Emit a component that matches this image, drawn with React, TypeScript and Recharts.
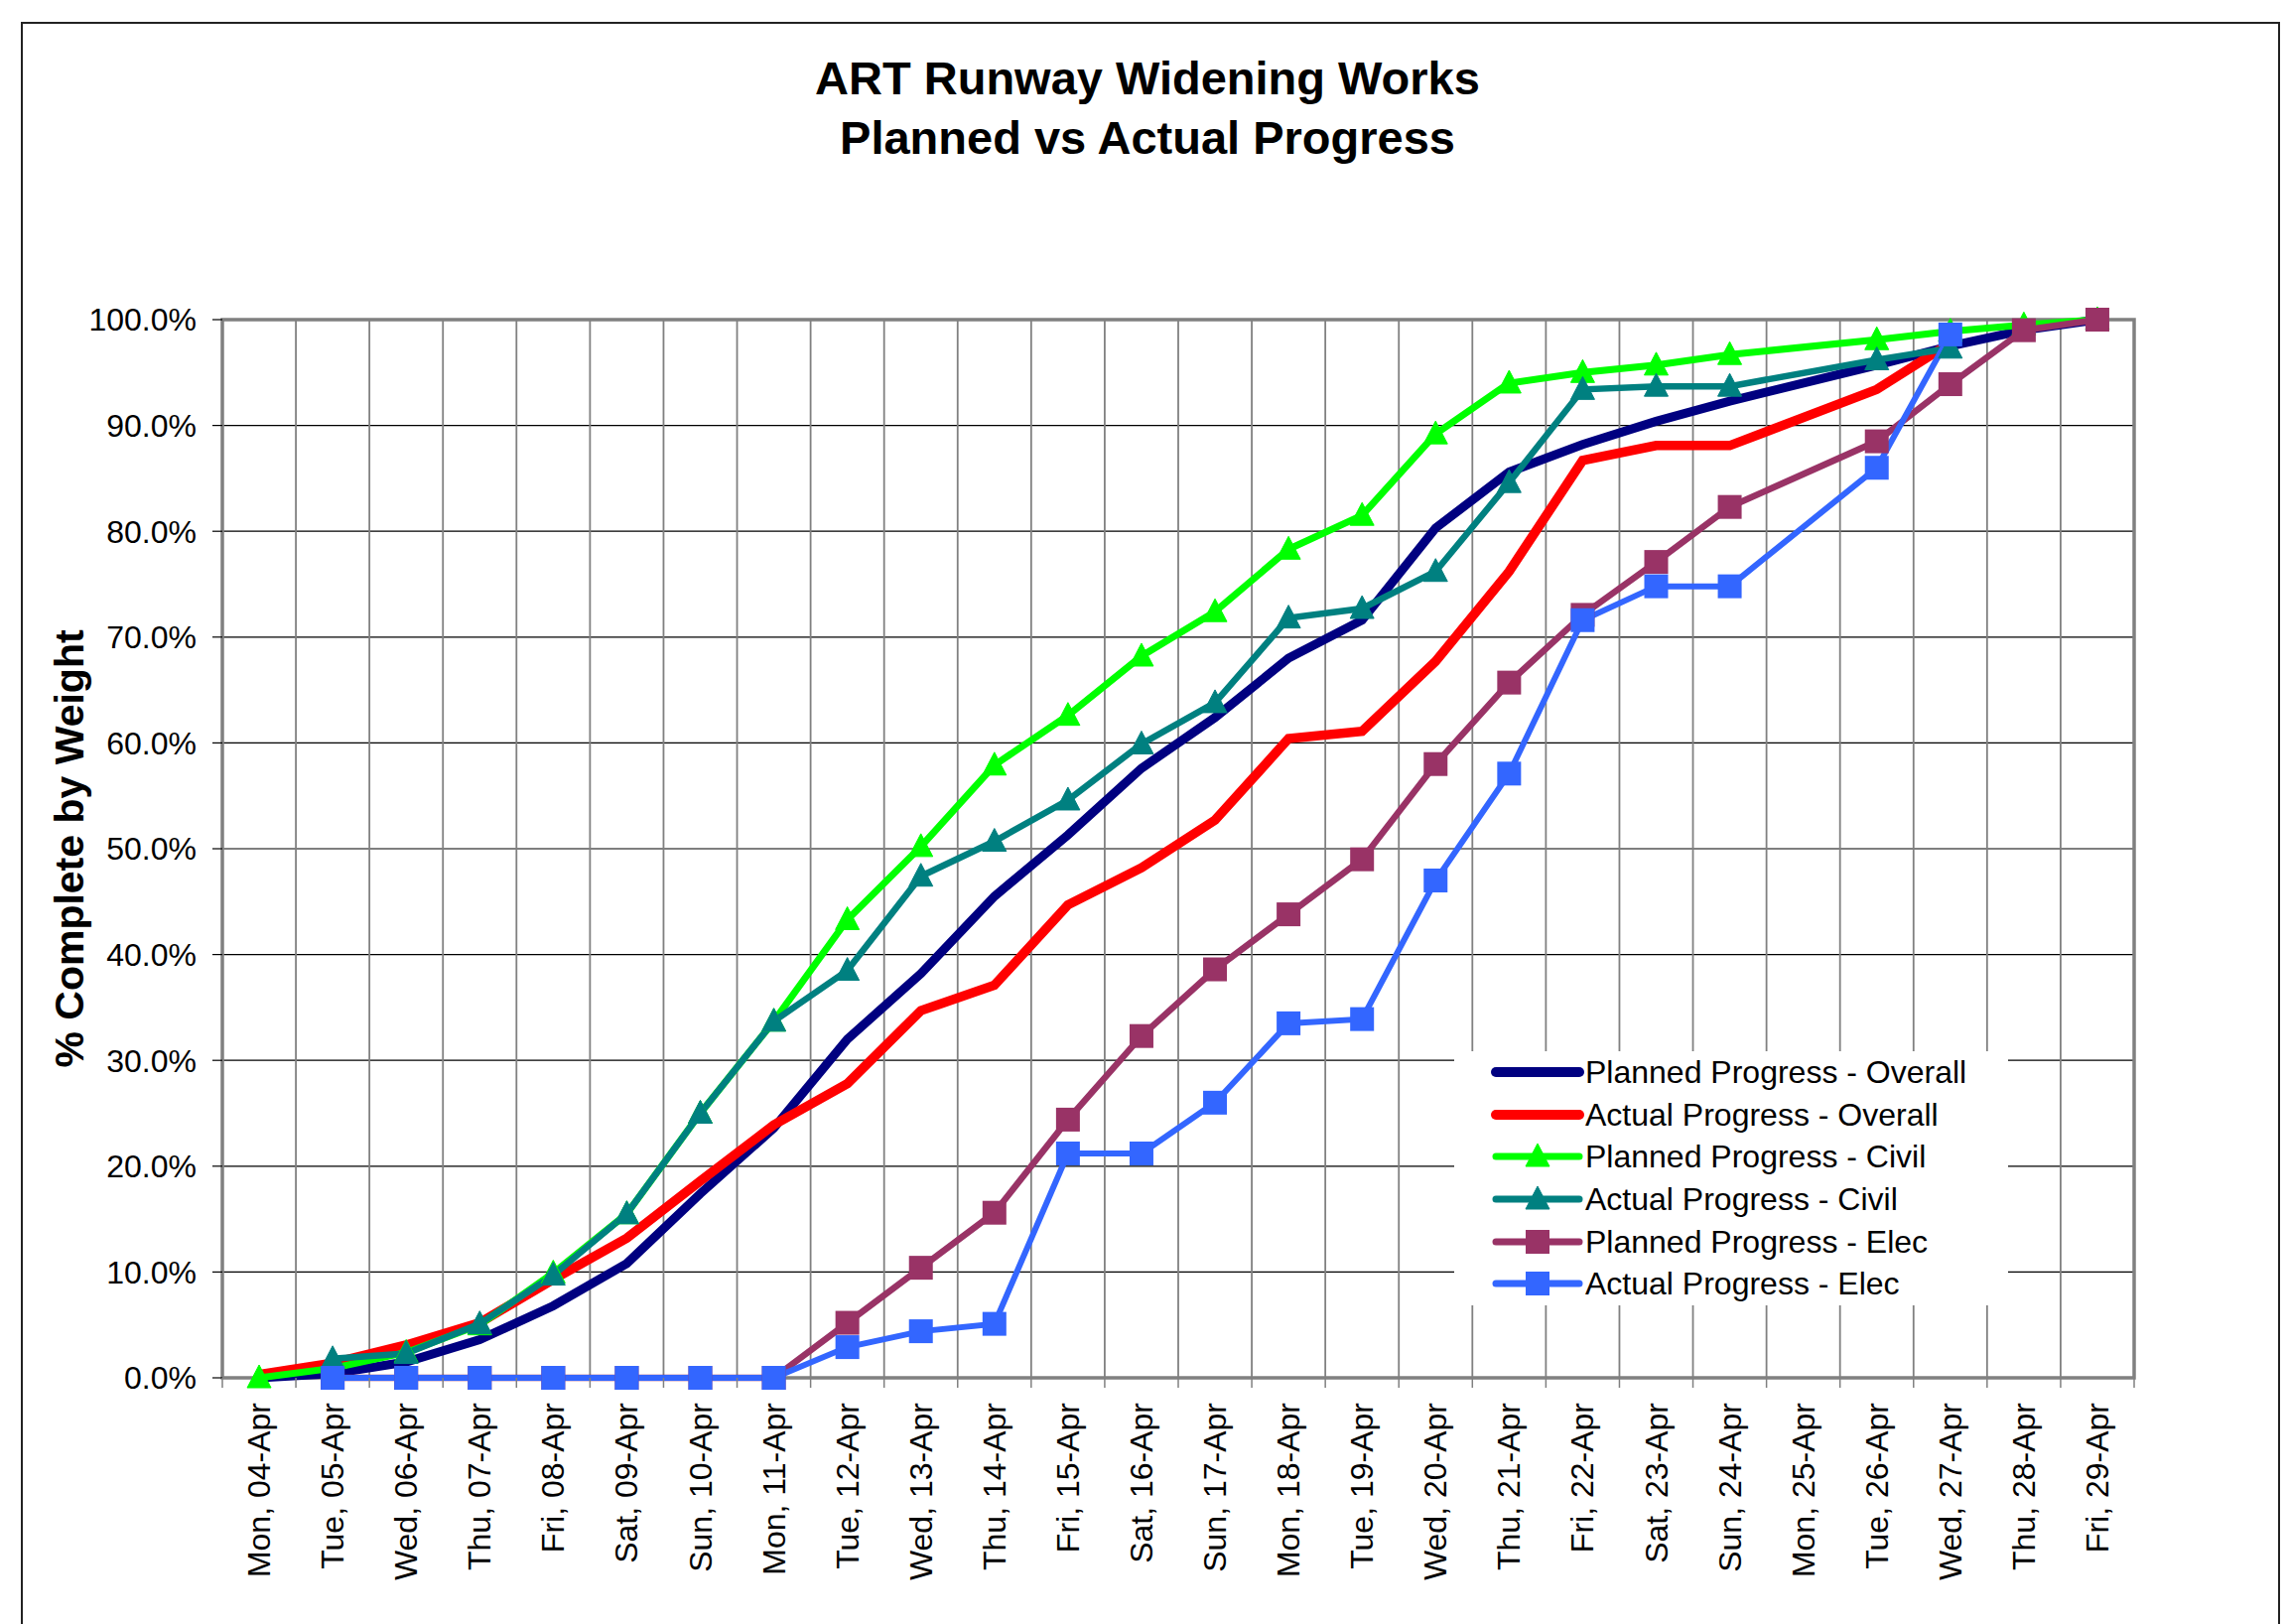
import {
  CartesianGrid,
  Legend,
  Line,
  LineChart,
  ReferenceArea,
  XAxis,
  YAxis,
} from "recharts";

const FONT = '"Liberation Sans", Arial, Helvetica, sans-serif';

// category labels (one per day)
const days = [
  "Mon, 04-Apr", "Tue, 05-Apr", "Wed, 06-Apr", "Thu, 07-Apr", "Fri, 08-Apr",
  "Sat, 09-Apr", "Sun, 10-Apr", "Mon, 11-Apr", "Tue, 12-Apr", "Wed, 13-Apr",
  "Thu, 14-Apr", "Fri, 15-Apr", "Sat, 16-Apr", "Sun, 17-Apr", "Mon, 18-Apr",
  "Tue, 19-Apr", "Wed, 20-Apr", "Thu, 21-Apr", "Fri, 22-Apr", "Sat, 23-Apr",
  "Sun, 24-Apr", "Mon, 25-Apr", "Tue, 26-Apr", "Wed, 27-Apr", "Thu, 28-Apr",
  "Fri, 29-Apr",
];

// % complete by weight, null where no value was recorded
const plannedOverall = [
  0, 0.4, 1.5, 3.6, 6.8, 10.8, 17.4, 23.6, 32.0, 38.2, 45.5, 51.3, 57.6,
  62.4, 68.0, 71.6, 80.3, 85.6, 88.2, 90.4, 92.3, null, 95.7, 97.5, 99.0, 100,
];
const actualOverall = [
  0.3, 1.4, 3.1, 5.2, 9.3, 13.2, 18.6, 23.9, 27.8, 34.7, 37.1, 44.7, 48.2,
  52.7, 60.4, 61.1, 67.7, 76.2, 86.7, 88.1, 88.1, null, 93.4, 97.8, null, null,
];
const plannedCivil = [
  0, 0.9, 2.4, 5.0, 9.9, 15.5, 25.0, 33.7, 43.3, 50.2, 57.9, 62.6, 68.2,
  72.4, 78.3, 81.5, 89.2, 94.0, 95.0, 95.7, 96.7, null, 98.1, 98.9, 99.5, 100,
];
const actualCivil = [
  null, 1.8, 2.3, 5.1, 9.7, 15.5, 25.0, 33.7, 38.5, 47.4, 50.7, 54.6, 59.9,
  63.8, 71.8, 72.7, 76.2, 84.6, 93.4, 93.7, 93.7, null, 96.2, 97.3, null, null,
];
const plannedElec = [
  null, 0, 0, 0, 0, 0, 0, 0, 5.2, 10.4, 15.6, 24.4, 32.3,
  38.6, 43.8, 49.0, 58.0, 65.7, 72.1, 77.1, 82.3, null, 88.5, 93.9, 99.0, 100,
];
const actualElec = [
  null, 0, 0, 0, 0, 0, 0, 0, 2.9, 4.4, 5.1, 21.2, 21.2,
  26.0, 33.5, 33.9, 47.0, 57.1, 71.6, 74.8, 74.8, null, 86.0, 98.6, null, null,
];

const yTicks = [0, 10, 20, 30, 40, 50, 60, 70, 80, 90, 100];

type Marker = "none" | "triangle" | "square";

const series: {
  key: string;
  name: string;
  color: string;
  width: number;
  marker: Marker;
}[] = [
  { key: "plannedOverall", name: "Planned Progress - Overall", color: "#000080", width: 9, marker: "none" },
  { key: "actualOverall", name: "Actual Progress - Overall", color: "#FF0000", width: 9.5, marker: "none" },
  { key: "plannedCivil", name: "Planned Progress - Civil", color: "#00FF00", width: 7, marker: "triangle" },
  { key: "actualCivil", name: "Actual Progress - Civil", color: "#008080", width: 6.5, marker: "triangle" },
  { key: "plannedElec", name: "Planned Progress - Elec", color: "#993366", width: 6.5, marker: "square" },
  { key: "actualElec", name: "Actual Progress - Elec", color: "#3366FF", width: 6, marker: "square" },
];

const data = days.map((_, i) => ({
  idx: i,
  plannedOverall: plannedOverall[i],
  actualOverall: actualOverall[i],
  plannedCivil: plannedCivil[i],
  actualCivil: actualCivil[i],
  plannedElec: plannedElec[i],
  actualElec: actualElec[i],
}));

// gridlines and tick marks sit between the days, labels on the days
const gridTicks = [...days.map((_, i) => i - 0.5), days.length - 0.5];
const allXTicks = [...gridTicks, ...days.map((_, i) => i)].sort((a, b) => a - b);

function markerShape(kind: Marker, cx: number, cy: number, color: string, key?: string) {
  if (kind === "triangle") {
    return (
      <polygon
        key={key}
        points={`${cx},${cy - 13} ${cx - 12},${cy + 10} ${cx + 12},${cy + 10}`}
        fill={color}
        stroke={color}
        strokeWidth={1}
      />
    );
  }
  if (kind === "square") {
    return <rect key={key} x={cx - 12} y={cy - 12} width={24} height={24} fill={color} />;
  }
  return <g key={key} />;
}

function makeDot(kind: Marker, color: string) {
  return (props: any) => {
    const { cx, cy, index, value } = props;
    const k = `dot-${color}-${index}`;
    if (value == null || cx == null || cy == null || Number.isNaN(cy)) return <g key={k} />;
    return markerShape(kind, cx, cy, color, k);
  };
}

function DayTick(props: any) {
  const { x, y, payload } = props;
  const v = payload.value as number;
  if (!Number.isInteger(v)) {
    return <line x1={x} x2={x} y1={y} y2={y + 10} stroke="#808080" strokeWidth={1.5} />;
  }
  const ty = y + 25;
  return (
    <text
      x={x}
      y={ty}
      transform={`rotate(-90, ${x}, ${ty})`}
      textAnchor="end"
      dominantBaseline="central"
      fontSize={32}
      fontFamily={FONT}
      fill="#000"
    >
      {days[v]}
    </text>
  );
}

function YTitle(props: any) {
  const vb = props.viewBox || { x: 0, y: 322, width: 224, height: 1066 };
  const x = vb.x + 70;
  const y = vb.y + vb.height / 2;
  return (
    <text
      x={x}
      y={y}
      transform={`rotate(-90, ${x}, ${y})`}
      textAnchor="middle"
      dominantBaseline="central"
      fontSize={41}
      fontWeight="bold"
      fontFamily={FONT}
      fill="#000"
    >
      % Complete by Weight
    </text>
  );
}

function LegendBox() {
  return (
    <div style={{ background: "#fff", width: 558, height: 256, fontFamily: FONT }}>
      {series.map((s) => (
        <div key={s.key} style={{ display: "flex", alignItems: "center", height: 42.6 }}>
          <svg width={96} height={40} style={{ marginLeft: 36, flex: "none" }}>
            <line
              x1={6}
              x2={90}
              y1={20}
              y2={20}
              stroke={s.color}
              strokeWidth={s.marker === "none" ? 10 : 7}
              strokeLinecap="round"
            />
            {markerShape(s.marker, 48, 20, s.color)}
          </svg>
          <span style={{ fontSize: 32, color: "#000", whiteSpace: "nowrap", lineHeight: 1 }}>
            {s.name}
          </span>
        </div>
      ))}
    </div>
  );
}

export default function App() {
  return (
    <div
      style={{
        position: "absolute",
        left: 0,
        top: 0,
        width: 2305,
        height: 1636,
        overflow: "hidden",
        background: "#fff",
      }}
    >
      <div
        style={{
          position: "absolute",
          left: 21,
          top: 22,
          width: 2272,
          height: 1700,
          border: "2px solid #222",
        }}
      />
      <div
        style={{
          position: "absolute",
          left: 0,
          top: 49,
          width: 2312,
          textAlign: "center",
          fontFamily: FONT,
          fontWeight: "bold",
          fontSize: 47,
          lineHeight: "60px",
          color: "#000",
        }}
      >
        ART Runway Widening Works
        <br />
        Planned vs Actual Progress
      </div>
      <div style={{ position: "absolute", left: 0, top: 0 }}>
        <LineChart
          width={2305}
          height={1636}
          data={data}
          margin={{ top: 322, right: 155, bottom: 0, left: 0 }}
        >
          <XAxis
            xAxisId="grid"
            dataKey="idx"
            type="number"
            domain={[-0.5, days.length - 0.5]}
            ticks={gridTicks}
            interval={0}
            height={0}
            hide
          />
          <XAxis
            xAxisId="x"
            dataKey="idx"
            type="number"
            domain={[-0.5, days.length - 0.5]}
            ticks={allXTicks}
            interval={0}
            height={248}
            tickSize={0}
            tickMargin={0}
            tickLine={false}
            axisLine={false}
            tick={<DayTick />}
          />
          <YAxis
            type="number"
            domain={[0, 100]}
            ticks={yTicks}
            interval={0}
            width={224}
            tickSize={10}
            tickMargin={16}
            tickLine={{ stroke: "#000", strokeWidth: 1.2 }}
            axisLine={false}
            tickFormatter={(v: number) => `${v.toFixed(1)}%`}
            tick={{ fontSize: 32, fill: "#000", fontFamily: FONT }}
            label={<YTitle />}
          />
          <CartesianGrid
            xAxisId="x"
            vertical={false}
            stroke="#000"
            strokeWidth={1.2}
          />
          <CartesianGrid
            xAxisId="grid"
            horizontal={false}
            stroke="#808080"
            strokeWidth={1.8}
          />
          <ReferenceArea
            xAxisId="x"
            x1={-0.5}
            x2={days.length - 0.5}
            y1={0}
            y2={100}
            fill="none"
            fillOpacity={0}
            stroke="#808080"
            strokeWidth={3.5}
          />
          <Legend
            layout="vertical"
            align="center"
            verticalAlign="middle"
            content={() => <LegendBox />}
            wrapperStyle={{ left: 1465, top: 1059, width: 558, height: 256 }}
          />
          {series.map((s) => (
            <Line
              key={s.key}
              xAxisId="x"
              type="linear"
              dataKey={s.key}
              name={s.name}
              stroke={s.color}
              strokeWidth={s.width}
              connectNulls
              dot={s.marker === "none" ? false : makeDot(s.marker, s.color)}
              activeDot={false}
              isAnimationActive={false}
            />
          ))}
        </LineChart>
      </div>
    </div>
  );
}
